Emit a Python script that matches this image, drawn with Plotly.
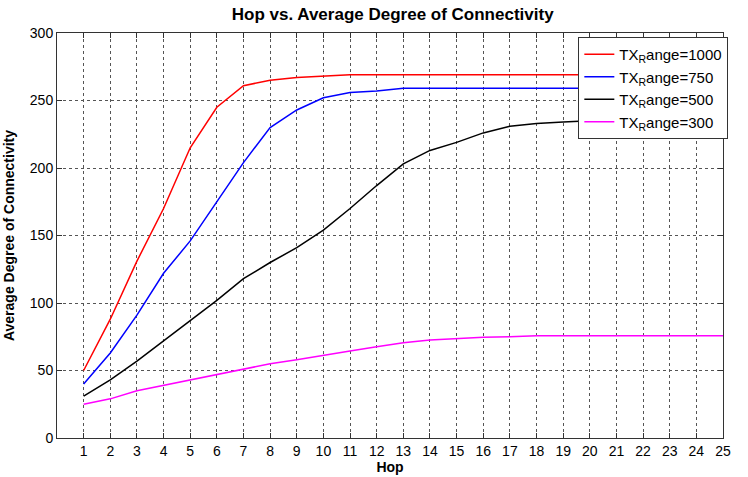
import plotly.graph_objects as go

hops = list(range(1, 26))
tx1000 = [50, 88, 131, 170, 215, 245, 261, 265, 267, 268, 269, 269, 269, 269, 269, 269, 269, 269, 269, 269, 269, 269, 269, 269, 269]
tx750 = [40, 63, 91, 122, 146, 175, 204, 230, 243, 252, 256, 257, 259, 259, 259, 259, 259, 259, 259, 259, 259, 259, 259, 259, 259]
tx500 = [31, 43, 57, 72, 87, 102, 118, 130, 141, 154, 170, 187, 203, 213, 219, 226, 231, 233, 234, 235, 235, 235, 235, 235, 235]
tx300 = [25, 29, 35, 39, 43, 47, 51, 55, 58, 61.5, 64.5, 67.6, 70.6, 72.6, 73.6, 74.6, 75, 75.8, 75.8, 75.8, 75.8, 75.8, 75.8, 75.8, 75.8]

names = ["TX<sub>R</sub>ange=1000", "TX<sub>R</sub>ange=750", "TX<sub>R</sub>ange=500", "TX<sub>R</sub>ange=300"]
colors = ["#ff0000", "#0000ff", "#000000", "#ff00ff"]
series = [tx1000, tx750, tx500, tx300]

fig = go.Figure()
for n, c, s in zip(names, colors, series):
    fig.add_trace(go.Scatter(x=hops, y=s, mode="lines", name=n, line=dict(color=c, width=1.5)))

font = "Liberation Sans, Arial, sans-serif"
axis_common = dict(
    showline=True, linecolor="#333", linewidth=1, mirror="ticks",
    ticks="inside", ticklen=5, tickcolor="#333",
    showgrid=True, gridcolor="#555", griddash="dot", gridwidth=1,
    zeroline=False, automargin=False, tickfont=dict(family=font, size=14, color="#000"),
)
fig.update_layout(
    width=748, height=477,
    margin=dict(l=57, r=25, t=33, b=39),
    paper_bgcolor="white", plot_bgcolor="white",
    title=dict(text="<b>Hop vs. Average Degree of Connectivity</b>", x=0.525, xanchor="center",
               y=0.97, yanchor="middle", font=dict(family=font, size=17, color="#000")),
    xaxis=dict(range=[0, 25], tickvals=hops, title=dict(text="<b>Hop</b>", standoff=2,
               font=dict(family=font, size=14, color="#000")), **axis_common),
    yaxis=dict(range=[0, 300], tickvals=list(range(0, 301, 50)),
               title=dict(text="<b>Average Degree of Connectivity</b>", standoff=11,
                          font=dict(family=font, size=14, color="#000")), **axis_common),
    legend=dict(x=1.008, xanchor="right", y=0.99, yanchor="top", bgcolor="white",
                bordercolor="#333", borderwidth=1, font=dict(family=font, size=15, color="#000"),
                tracegroupgap=0, itemwidth=30),
    showlegend=True,
)
fig.write_html("out.html")
